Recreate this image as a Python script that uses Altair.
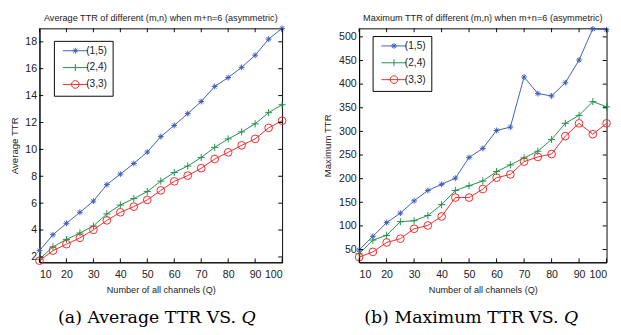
import altair as alt
import pandas as pd

# Number of channels Q
Q = [10, 15, 20, 25, 30, 35, 40, 45, 50, 55, 60, 65, 70, 75, 80, 85, 90, 95, 100]
series = ["(1,5)", "(2,4)", "(3,3)"]

# Average TTR per (m,n)
avg_15 = [2.47, 3.65, 4.5, 5.32, 6.15, 7.38, 8.16, 8.95, 9.8, 10.95, 11.78, 12.66, 13.56, 14.68, 15.34, 16.1, 17.0, 18.2, 19.0]
avg_24 = [1.83, 2.75, 3.3, 3.78, 4.3, 5.2, 5.86, 6.34, 6.86, 7.64, 8.28, 8.76, 9.4, 10.15, 10.78, 11.3, 11.9, 12.73, 13.32]
avg_33 = [1.72, 2.47, 2.95, 3.42, 4.01, 4.72, 5.32, 5.74, 6.24, 6.95, 7.62, 8.05, 8.6, 9.28, 9.78, 10.3, 10.78, 11.6, 12.13]

# Maximum TTR per (m,n)
max_15 = [49, 78, 107, 127, 153, 175, 188, 201, 245, 264, 302, 309, 415, 380, 375, 403, 451, 517, 515]
max_24 = [41, 70, 80, 109, 111, 122, 145, 175, 185, 195, 215, 229, 244, 258, 283, 317, 334, 363, 352]
max_33 = [34, 45, 65, 73, 94, 101, 120, 160, 160, 178, 202, 209, 236, 246, 252, 290, 317, 294, 317]

x_ticks = [10, 20, 30, 40, 50, 60, 70, 80, 90, 100]
avg_ticks = [2, 4, 6, 8, 10, 12, 14, 16, 18]
max_ticks = [50, 100, 150, 200, 250, 300, 350, 400, 450, 500]

colors = ["#3d5cba", "#1f8f48", "#f02828"]

SANS = "Liberation Sans"
SERIF = "DejaVu Serif"

# marker glyphs (unit paths, scaled by sqrt(size)/2)
marker_paths = [
    "M-1,0L1,0M0,-1L0,1M-0.7,-0.7L0.7,0.7M-0.7,0.7L0.7,-0.7",
    "M-1,0L1,0M0,-1L0,1",
    "circle",
]
marker_sizes = [36, 55, 64]

# legend glyphs: short line with the marker in the middle
legend_paths = [
    "M-4.33,0L4.33,0M-1,0L1,0M0,-1L0,1M-0.7,-0.7L0.7,0.7M-0.7,0.7L0.7,-0.7",
    "M-4.33,0L4.33,0M0,-1.2L0,1.2",
    "M-4.33,0L4.33,0M1.33,0A1.33,1.33,0,1,1,-1.33,0A1.33,1.33,0,1,1,1.33,0",
]


def long_table(a, b, c):
    rows = []
    for name, vals in zip(series, [a, b, c]):
        for q, v in zip(Q, vals):
            rows.append({"Q": q, "value": v, "series": name})
    return pd.DataFrame(rows)


def panel(df, y_domain, y_ticks, heading, y_title, caption, width, height,
          legend_x, legend_y, caption_dx):
    x_enc = alt.X(
        "Q:Q",
        scale=alt.Scale(domain=[10, 100], nice=False, zero=False),
        axis=alt.Axis(values=x_ticks, title="Number of all channels (Q)"),
    )
    y_enc = alt.Y(
        "value:Q",
        scale=alt.Scale(domain=y_domain, nice=False, zero=False),
        axis=alt.Axis(values=y_ticks, title=y_title),
    )
    legend = alt.Legend(
        orient="none", legendX=legend_x, legendY=legend_y, title=None,
        strokeColor="black", fillColor="white", padding=5,
        symbolSize=36, symbolStrokeWidth=1, symbolOffset=12, labelOffset=6,
        rowPadding=5.5, labelFont=SANS, labelFontSize=10.5, labelColor="#222222",
    )
    color_enc = alt.Color(
        "series:N", scale=alt.Scale(domain=series, range=colors), legend=legend
    )

    base = alt.Chart(df).encode(x=x_enc, y=y_enc)
    lines = base.mark_line(strokeWidth=1).encode(color=color_enc)

    marks = []
    for name, path, size in zip(series, marker_paths, marker_sizes):
        marks.append(
            base.transform_filter(alt.datum.series == name)
            .mark_point(shape=path, size=size, filled=False, strokeWidth=1, opacity=1)
            .encode(color=color_enc)
        )

    # invisible layer that carries the legend glyphs
    legend_layer = base.mark_point(filled=False, strokeOpacity=0).encode(
        color=color_enc,
        shape=alt.Shape(
            "series:N", scale=alt.Scale(domain=series, range=legend_paths), legend=legend
        ),
    )

    # inward tick marks on all four sides
    xt = pd.DataFrame({"Q": x_ticks})
    yt = pd.DataFrame({"value": y_ticks})
    tick_style = dict(color="black", strokeWidth=1)
    xb = alt.Chart(xt).mark_rule(**tick_style).encode(
        x=x_enc, y=alt.value(height - 4), y2=alt.value(height))
    xtop = alt.Chart(xt).mark_rule(**tick_style).encode(
        x=x_enc, y=alt.value(0), y2=alt.value(4))
    yl = alt.Chart(yt).mark_rule(**tick_style).encode(
        y=y_enc, x=alt.value(0), x2=alt.value(4))
    yr = alt.Chart(yt).mark_rule(**tick_style).encode(
        y=y_enc, x=alt.value(width - 4), x2=alt.value(width))

    head = alt.Chart(pd.DataFrame({"t": [heading]})).mark_text(
        font=SANS, fontSize=9.5, color="#222222", baseline="middle", align="center"
    ).encode(x=alt.value(width / 2), y=alt.value(-11), text="t:N")

    return alt.layer(lines, *marks, legend_layer, xb, xtop, yl, yr, head).properties(
        width=width, height=height,
        title=alt.TitleParams(
            caption, orient="bottom", font=SERIF, fontSize=18, fontWeight="normal",
            color="black", offset=17, dx=caption_dx,
        ),
    )


left = panel(
    long_table(avg_15, avg_24, avg_33), [1.6, 19.0], avg_ticks,
    "Average TTR of different (m,n) when m+n=6 (asymmetric)", "Average TTR",
    "(a) Average TTR VS. \U0001D444", 252, 243, 15, 13, -4,
)
right = panel(
    long_table(max_15, max_24, max_33), [23, 518], max_ticks,
    "Maximum TTR of different (m,n) when m+n=6 (asymmetric)", "Maximum TTR",
    "(b) Maximum TTR VS. \U0001D444", 257, 243, 14, 8, -12,
)

chart = (
    alt.hconcat(left, right, spacing=29)
    .resolve_scale(color="independent", shape="independent", x="independent", y="independent")
    .resolve_legend(color="independent", shape="independent")
    .properties(padding={"left": 9, "top": 6, "right": 2, "bottom": 0})
    .configure_view(stroke="black", strokeWidth=1)
    .configure_axis(
        grid=False, ticks=False, domainColor="black", domainWidth=1,
        labelFont=SANS, labelFontSize=11, labelColor="#222222", labelPadding=3,
        titleFont=SANS, titleFontSize=10, titleFontWeight="normal", titleColor="#222222",
    )
    .configure_axisX(labelPadding=7, titlePadding=5, titleFontSize=9.5)
    .configure_axisY(titlePadding=6)
    .configure_title(anchor="middle")
)

chart.save("out.html", embed_options={"renderer": "svg", "actions": False})
